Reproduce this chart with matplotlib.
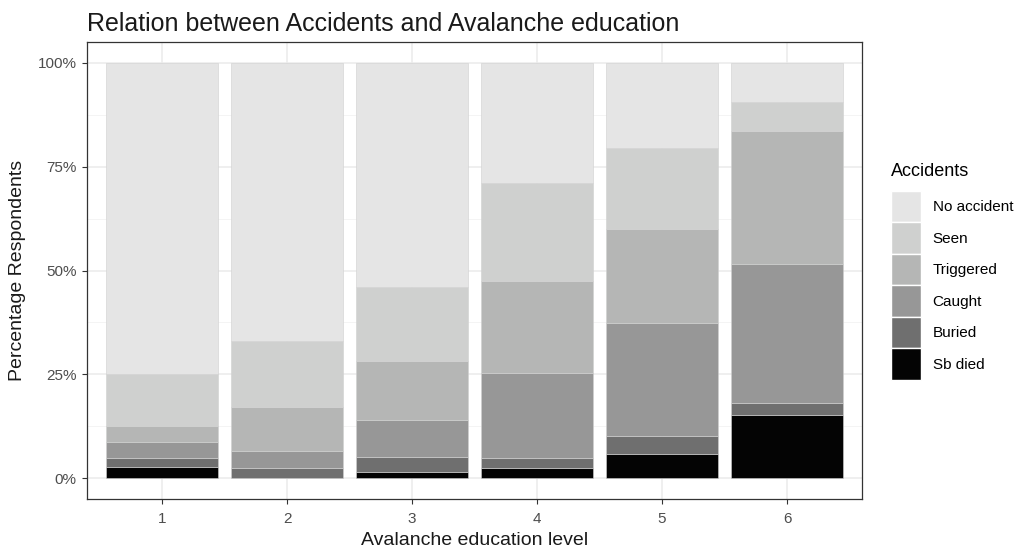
import matplotlib
matplotlib.use("Agg")
import matplotlib.pyplot as plt
from matplotlib.patches import Patch
from matplotlib.ticker import FixedLocator
import numpy as np

plt.rcParams['font.family'] = ['Liberation Sans', 'DejaVu Sans']

# education levels
levels = ["1", "2", "3", "4", "5", "6"]

# percentage of respondents per accident type (bottom to top of stack)
sb_died     = [2.75, 0.0, 1.45, 2.5, 5.8, 15.3]
buried      = [2.05, 2.4, 3.65, 2.3, 4.3, 2.9]
caught      = [3.8, 4.1, 8.8, 20.5, 27.3, 33.3]
triggered   = [3.9, 10.7, 14.4, 22.2, 22.5, 32.0]
seen        = [12.5, 15.8, 17.8, 23.5, 19.5, 7.0]
no_accident = [75.0, 67.0, 53.9, 29.0, 20.6, 9.5]

labels = ["Sb died", "Buried", "Caught", "Triggered", "Seen", "No accident"]
colors = ["#040404", "#6F6F6F", "#979797", "#B5B6B5", "#CFD0CF", "#E5E5E5"]

series = [sb_died, buried, caught, triggered, seen, no_accident]

fig = plt.figure(figsize=(10.33, 5.53), dpi=100)
ax = fig.add_axes([87/1033, 1 - 499/553, (862-87)/1033, (499-42)/553])

x = np.arange(1, len(levels) + 1)
bottom = np.zeros(len(levels))
for vals, lab, col in zip(series, labels, colors):
    vals = np.array(vals)
    ax.bar(x, vals, width=0.9, bottom=bottom, color=col, label=lab,
           edgecolor="#D0D0D0", linewidth=0.4, zorder=3)
    bottom += vals

ax.set_xlim(0.4, 6.6)
ax.set_ylim(-5, 105)
ax.set_xticks(x)
ax.set_xticklabels(levels)
ax.set_yticks([0, 25, 50, 75, 100])
ax.set_yticklabels(["0%", "25%", "50%", "75%", "100%"])
ax.yaxis.set_minor_locator(FixedLocator([12.5, 37.5, 62.5, 87.5]))

ax.grid(which="major", color="#EBEBEB", linewidth=1.1, zorder=0)
ax.grid(which="minor", axis="y", color="#F2F2F2", linewidth=0.6, zorder=0)
ax.tick_params(which="minor", length=0)
ax.tick_params(which="major", length=3.5, width=0.8, color="#333333",
               labelsize=11, labelcolor="#4D4D4D", pad=4)
ax.tick_params(axis="x", pad=6)
for s in ax.spines.values():
    s.set_color("#333333")
    s.set_linewidth(0.9)

ax.set_xlabel("Avalanche education level", fontsize=14, color="#1A1A1A", labelpad=4)
ax.set_ylabel("Percentage Respondents", fontsize=14, color="#1A1A1A", labelpad=8)
ax.set_title("Relation between Accidents and Avalanche education", fontsize=18,
             loc="left", color="#1A1A1A", pad=8)

handles = [Patch(facecolor=c, edgecolor="white", linewidth=1.0) for c in colors[::-1]]
leg = fig.legend(handles, labels[::-1], loc="upper left",
                 bbox_to_anchor=(886/1033, 1 - 158/553), frameon=False,
                 title="Accidents", fontsize=11, title_fontsize=13,
                 handlelength=2.0, handleheight=2.8, handletextpad=0.75,
                 labelspacing=0.0, borderaxespad=0, borderpad=0.3)
leg._legend_box.align = "left"
leg._legend_box.sep = 8

fig.savefig("out.png", dpi=100)
